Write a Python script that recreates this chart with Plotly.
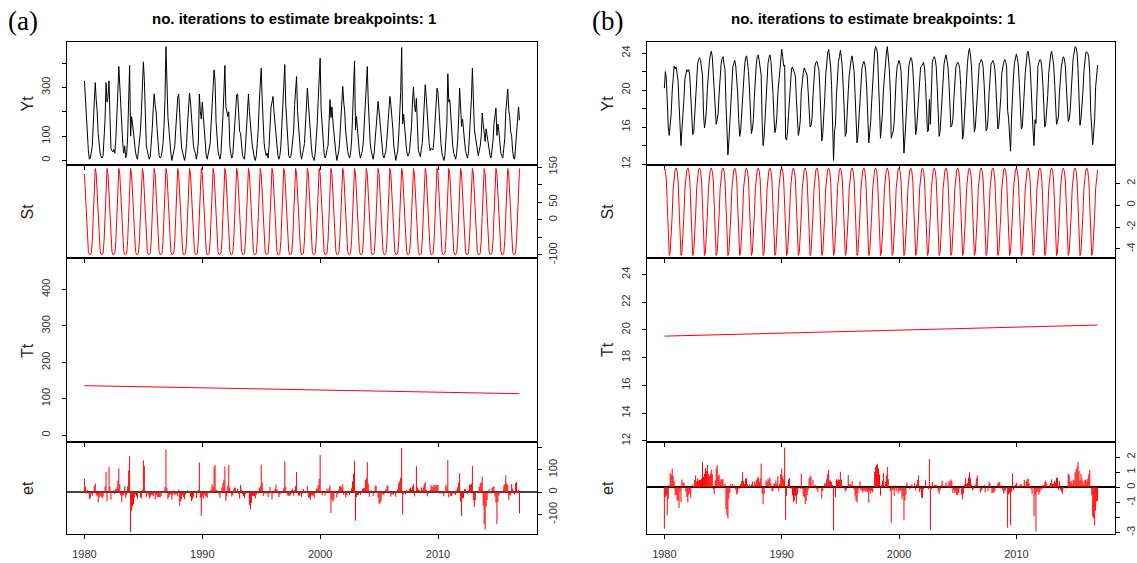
import numpy as np
import plotly.graph_objects as go

# ---------------- data ----------------
start_year = 1980
year_ticks = [1980, 1990, 2000, 2010]

# Panel (a): observed series Yt, one row per year (Jan..Dec), 1980-2016
yt_a = [
    [327, 240, 150, 95, 40, 5, 10, 35, 60, 150, 260, 320],
    [250, 200, 110, 60, 30, 15, 10, 20, 80, 170, 320, 240],
    [260, 327, 180, 50, 40, 35, 45, 30, 90, 160, 280, 386],
    [300, 200, 110, 70, 30, 60, 10, 25, 100, 240, 390, 100],
    [180, 150, 100, 60, 35, 15, 5, 40, 75, 120, 200, 290],
    [405, 330, 160, 60, 40, 20, 5, 15, 60, 130, 210, 274],
    [230, 200, 130, 60, 20, 10, 15, 35, 70, 140, 250, 468],
    [280, 180, 130, 70, 30, 0, 20, 45, 60, 130, 220, 260],
    [273, 150, 110, 50, 30, 10, 0, 25, 70, 150, 230, 277],
    [240, 170, 120, 60, 40, 30, 5, 30, 80, 273, 200, 170],
    [240, 180, 140, 60, 20, 5, 25, 40, 70, 150, 260, 300],
    [372, 330, 160, 90, 40, 20, 5, 30, 90, 180, 280, 390],
    [220, 190, 180, 200, 60, 30, 10, 20, 80, 160, 240, 270],
    [273, 200, 120, 110, 50, 20, 10, 5, 60, 140, 220, 273],
    [200, 130, 100, 60, 20, 10, 0, 20, 70, 130, 240, 300],
    [379, 250, 130, 70, 40, 20, 30, 10, 60, 160, 220, 240],
    [263, 200, 160, 110, 50, 20, 5, 20, 60, 140, 220, 290],
    [394, 230, 140, 60, 20, 10, 15, 40, 80, 120, 230, 300],
    [345, 200, 130, 60, 30, 5, 20, 45, 70, 130, 220, 297],
    [230, 180, 110, 60, 20, 10, 0, 30, 80, 150, 250, 330],
    [420, 210, 130, 70, 30, 10, 20, 45, 60, 150, 250, 176],
    [220, 160, 110, 80, 30, 0, 15, 40, 90, 160, 240, 304],
    [240, 200, 120, 60, 40, 20, 10, 30, 80, 180, 300, 409],
    [125, 180, 130, 60, 30, 10, 25, 40, 80, 150, 270, 330],
    [386, 240, 120, 70, 40, 20, 5, 30, 90, 160, 220, 243],
    [200, 150, 100, 60, 20, 10, 25, 40, 90, 160, 220, 263],
    [230, 190, 130, 60, 30, 0, 20, 40, 100, 180, 280, 464],
    [150, 190, 140, 60, 40, 20, 20, 40, 80, 140, 240, 301],
    [230, 200, 255, 90, 40, 30, 15, 45, 70, 150, 250, 311],
    [260, 180, 130, 70, 40, 50, 45, 45, 90, 160, 240, 297],
    [280, 200, 130, 70, 30, 10, 0, 20, 90, 150, 356, 240],
    [250, 180, 120, 60, 30, 10, 5, 30, 80, 170, 297, 220],
    [140, 170, 110, 80, 40, 20, 10, 30, 90, 160, 250, 379],
    [210, 130, 100, 70, 30, 20, 40, 60, 100, 195, 150, 120],
    [78, 130, 100, 60, 40, 20, 10, 40, 80, 150, 190, 215],
    [103, 150, 120, 60, 30, 20, 10, 50, 90, 200, 250, 293],
    [210, 180, 120, 100, 40, 10, 5, 60, 100, 130, 220, 165],
]
# Panel (a): seasonal component by month (Jan..Dec)
st_a_month = [130, 80, 20, -50, -90, -99, -99, -95, -60, 10, 95, 146]
# Panel (a): trend at first and last month
tt_a_ends = [136, 114]

# Panel (b): observed series Yt, one row per year (Jan..Dec), 1980-2016
yt_b = [
    [20.2, 22.0, 21.3, 18.0, 16.0, 15.1, 16.2, 17.5, 19.9, 21.8, 22.6, 22.3],
    [22.5, 21.8, 21.0, 18.5, 16.5, 14.0, 15.8, 17.0, 19.0, 21.2, 21.9, 22.2],
    [22.0, 22.2, 21.5, 19.2, 16.8, 15.2, 15.4, 17.2, 19.5, 21.5, 22.8, 23.3],
    [23.5, 23.2, 22.5, 21.6, 17.5, 15.9, 16.6, 17.8, 20.2, 22.0, 23.0, 23.8],
    [24.2, 23.6, 21.8, 19.5, 17.3, 16.3, 16.8, 17.5, 19.6, 21.6, 22.8, 23.4],
    [23.6, 22.8, 22.2, 18.5, 15.0, 13.0, 14.6, 16.4, 19.0, 21.2, 22.5, 22.9],
    [23.2, 22.6, 21.5, 19.6, 16.8, 15.0, 15.6, 17.2, 19.8, 21.6, 22.5, 23.5],
    [23.7, 23.0, 22.0, 20.2, 17.0, 15.3, 15.8, 16.8, 19.2, 21.4, 22.8, 23.6],
    [23.8, 23.2, 22.6, 21.6, 16.5, 14.0, 15.0, 16.8, 19.3, 21.6, 22.9, 23.5],
    [23.8, 23.1, 21.8, 19.8, 17.2, 15.4, 15.9, 17.1, 19.6, 21.0, 22.6, 23.9],
    [24.4, 23.6, 22.6, 22.7, 14.8, 14.6, 15.6, 17.4, 19.5, 21.2, 22.3, 22.5],
    [22.2, 22.0, 21.5, 19.0, 16.5, 15.1, 15.6, 16.8, 19.8, 21.2, 21.8, 22.4],
    [22.1, 22.0, 21.6, 19.9, 17.6, 16.0, 16.2, 17.0, 19.4, 21.3, 22.6, 23.0],
    [23.1, 22.6, 22.2, 20.2, 17.0, 14.5, 15.3, 16.9, 19.2, 21.6, 23.0, 24.0],
    [24.4, 23.4, 22.6, 20.5, 17.2, 12.4, 15.6, 16.3, 19.5, 21.8, 23.0, 23.6],
    [24.3, 23.5, 22.3, 20.1, 17.0, 15.0, 15.4, 17.0, 19.8, 21.6, 22.7, 23.3],
    [23.7, 23.0, 22.0, 19.6, 16.2, 14.3, 15.2, 16.9, 19.4, 21.2, 22.3, 22.8],
    [23.1, 22.8, 21.9, 20.0, 16.8, 14.3, 15.4, 16.6, 18.8, 21.1, 22.6, 24.2],
    [24.7, 24.5, 23.8, 21.5, 18.0, 14.8, 15.8, 17.5, 20.0, 21.5, 22.9, 24.0],
    [24.7, 23.6, 22.3, 20.0, 14.8, 15.2, 15.5, 16.5, 19.2, 21.2, 22.5, 22.8],
    [23.2, 22.8, 22.1, 19.5, 16.6, 13.2, 14.8, 16.6, 19.4, 21.5, 22.6, 23.1],
    [23.5, 23.3, 22.4, 20.4, 17.5, 15.2, 15.9, 17.6, 19.9, 21.2, 22.5, 22.6],
    [22.7, 23.0, 22.4, 20.8, 17.2, 15.5, 15.6, 19.0, 16.3, 21.4, 23.0, 23.4],
    [23.6, 23.3, 22.5, 20.3, 17.0, 15.0, 15.6, 17.3, 19.6, 21.6, 22.8, 23.4],
    [23.8, 23.2, 22.5, 20.8, 17.6, 16.0, 16.2, 16.8, 19.0, 21.2, 22.4, 22.8],
    [23.0, 22.8, 22.3, 20.5, 16.8, 14.7, 15.4, 17.4, 19.8, 21.8, 23.0, 24.0],
    [24.5, 23.8, 22.6, 20.2, 17.2, 15.5, 16.0, 17.8, 20.0, 21.6, 22.8, 23.0],
    [23.3, 23.1, 22.4, 20.6, 17.0, 15.6, 15.8, 17.0, 19.6, 21.9, 22.8, 23.0],
    [23.2, 22.9, 22.2, 20.4, 17.4, 15.8, 16.2, 17.6, 19.2, 21.8, 22.6, 23.0],
    [23.3, 23.1, 22.5, 17.8, 16.9, 15.2, 13.4, 17.0, 20.2, 21.5, 22.9, 23.6],
    [23.9, 23.4, 22.6, 20.6, 17.6, 15.8, 16.0, 17.4, 19.8, 21.8, 23.2, 24.0],
    [24.2, 23.6, 22.6, 20.4, 17.0, 15.6, 14.0, 16.8, 16.4, 21.4, 22.6, 23.0],
    [23.3, 23.2, 22.4, 20.7, 17.6, 16.0, 16.4, 17.6, 19.4, 21.8, 23.0, 23.8],
    [24.2, 23.6, 22.8, 21.0, 17.8, 16.3, 16.6, 17.2, 19.8, 21.6, 22.6, 23.1],
    [23.6, 23.4, 22.6, 20.5, 17.6, 16.6, 16.8, 17.8, 19.8, 22.0, 23.4, 24.0],
    [24.7, 24.6, 24.0, 22.3, 18.6, 16.2, 16.9, 18.0, 19.8, 22.0, 23.4, 24.1],
    [24.1, 24.0, 23.5, 21.8, 17.6, 15.2, 14.1, 15.4, 16.9, 20.3, 22.0, 22.7],
]
st_b_month = [3.4, 3.1, 2.3, 0.3, -2.8, -4.6, -4.3, -2.9, -0.9, 1.5, 2.6, 3.25]
tt_b_ends = [19.55, 20.35]

# ---------------- layout geometry (pixels) ----------------
W, H = 1137, 563
x_px = {"a": (67, 537), "b": (647, 1115)}
row_px = [(42, 165), (165, 258), (258, 442), (442, 534)]  # Yt, St, Tt, et
x_range = [1978.52, 2018.40]

yranges = {
    "a": [[-18.7, 486.7], [-108.8, 155.8], [-18.7, 486.7], [-187, 224]],
    "b": [[11.91, 25.19], [-4.83, 3.67], [11.91, 25.19], [-3.1, 3.0]],
}
yticks = {
    "a": [
        ([0, 100, 200, 300, 400], ["0", "100", "", "300", ""]),
        ([-100, -50, 0, 50, 100, 150], ["-100", "", "0", "50", "", "150"]),
        ([0, 100, 200, 300, 400], ["0", "100", "200", "300", "400"]),
        ([-100, 0, 100, 200], ["-100", "0", "100", ""]),
    ],
    "b": [
        ([12, 14, 16, 18, 20, 22, 24], ["12", "", "16", "", "20", "", "24"]),
        ([-4, -2, 0, 2], ["-4", "-2", "0", "2"]),
        ([12, 14, 16, 18, 20, 22, 24], ["12", "14", "16", "18", "20", "22", "24"]),
        ([-3, -2, -1, 0, 1, 2], ["-3", "", "-1", "0", "1", "2"]),
    ],
}
row_names = ["Yt", "St", "Tt", "et"]


def px2x(p):
    return p / W


def px2y(p):
    return 1 - p / H


fig = go.Figure()
layout = dict(
    template="none",
    width=W, height=H, autosize=False,
    margin=dict(l=0, r=0, t=0, b=0, pad=0),
    paper_bgcolor="white", plot_bgcolor="white",
    showlegend=False,
    font=dict(family="Liberation Sans, Arial, sans-serif", color="#222", size=11),
)

annotations = []
panels = [("a", yt_a, st_a_month, tt_a_ends), ("b", yt_b, st_b_month, tt_b_ends)]
for p_i, (p, yt_rows, st_month, tt_ends) in enumerate(panels):
    yt = np.array(yt_rows, dtype=float).ravel()
    n = yt.size
    t = start_year + np.arange(n) / 12.0
    st = np.array(st_month * len(yt_rows), dtype=float)
    tt_x = [t[0], t[-1]]
    tt_full = np.interp(t, tt_x, tt_ends)
    et = yt - st - tt_full

    et_x, et_y = [], []
    for xi, vi in zip(t, et):
        et_x += [xi, xi, None]
        et_y += [0, vi, None]

    series = [
        (t, yt, "black"),
        (t, st, "red"),
        (tt_x, tt_ends, "red"),
        (et_x, et_y, "red"),
    ]
    for k in range(4):
        idx = p_i * 4 + k + 1
        xs = "" if idx == 1 else str(idx)
        xx, yy, col = series[k]
        fig.add_trace(go.Scatter(
            x=list(xx), y=list(yy), mode="lines",
            line=dict(color=col, width=1), xaxis="x" + xs, yaxis="y" + xs,
            hoverinfo="skip", connectgaps=False,
        ))
        top, bot = row_px[k]
        xl, xr = x_px[p]
        layout["xaxis" + xs] = dict(
            domain=[px2x(xl), px2x(xr)], anchor="y" + xs, range=x_range,
            tickvals=year_ticks, ticktext=[str(v) for v in year_ticks],
            showticklabels=(k == 3), ticks="outside", ticklen=4, tickwidth=1,
            tickcolor="black", showline=True, linecolor="black", linewidth=1,
            mirror=True, showgrid=False, zeroline=False, automargin=False,
            ticklabelstandoff=6, tickfont=dict(size=11, color="#333"),
        )
        tv, tx = yticks[p][k]
        left_side = k in (0, 2)
        layout["yaxis" + xs] = dict(
            domain=[px2y(bot), px2y(top)], anchor="x" + xs, range=yranges[p][k],
            side="left" if left_side else "right",
            tickvals=tv, ticktext=tx, tickangle=-90,
            ticks="outside", ticklen=4, tickwidth=1, tickcolor="black",
            showline=True, linecolor="black", linewidth=1, mirror=True,
            showgrid=False, zeroline=(k == 3), automargin=False,
            zerolinecolor="#444" if p == "a" else "black", zerolinewidth=1.5,
            ticklabelstandoff=8 if left_side else 2,
            tickfont=dict(size=11, color="#333"),
        )
        annotations.append(dict(
            text=row_names[k], xref="paper", yref="paper",
            x=px2x(xl - 40), y=px2y((top + bot) / 2), textangle=-90,
            showarrow=False, xanchor="center", yanchor="middle",
            font=dict(size=16, color="#222", family="Liberation Sans, Arial, sans-serif"),
        ))
    # panel title
    xl, xr = x_px[p]
    annotations.append(dict(
        text="<b>no. iterations to estimate breakpoints: 1</b>", xref="paper", yref="paper",
        x=px2x((xl + xr) / 2 - 8), y=px2y(18), showarrow=False,
        xanchor="center", yanchor="middle",
        font=dict(size=15, color="black", family="Liberation Sans, Arial, sans-serif"),
    ))
    annotations.append(dict(
        text="(%s)" % p, xref="paper", yref="paper",
        x=px2x(6 if p == "a" else 590), y=px2y(21), showarrow=False,
        xanchor="left", yanchor="middle",
        font=dict(size=27, color="black", family="Liberation Serif, Times New Roman, serif"),
    ))

layout["annotations"] = annotations
fig.update_layout(**layout)
fig.write_html("out.html", config={"displayModeBar": False},
               post_script="document.body.style.margin='0';")
